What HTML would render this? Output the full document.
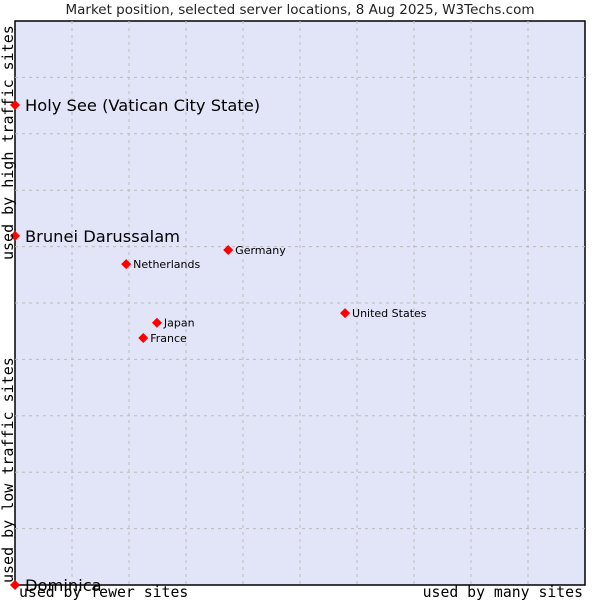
<!DOCTYPE html>
<html><head><meta charset="utf-8"><style>
body{margin:0;background:#fff;}
svg{display:block;font-family:"DejaVu Sans","Liberation Sans",sans-serif;}
</style></head><body>
<svg id="c" width="600" height="600">
<text x="300" y="14" text-anchor="middle" font-size="13.5" fill="#222">Market position, selected server locations, 8 Aug 2025, W3Techs.com</text>
<rect x="15" y="21" width="570" height="564" fill="#e2e4f8" stroke="#000" stroke-width="1.5"/>
<g id="grid"></g>
<g id="pts"></g>
<text x="19" y="597" font-family="DejaVu Sans Mono,Liberation Mono,monospace" font-size="14.8" fill="#000">used by fewer sites</text>
<text x="583" y="597" text-anchor="end" font-family="DejaVu Sans Mono,Liberation Mono,monospace" font-size="14.8" fill="#000">used by many sites</text>
<text transform="translate(13,583) rotate(-90)" font-family="DejaVu Sans Mono,Liberation Mono,monospace" font-size="15" fill="#000">used by low traffic sites</text>
<text transform="translate(13,260) rotate(-90)" font-family="DejaVu Sans Mono,Liberation Mono,monospace" font-size="15" fill="#000">used by high traffic sites</text>
</svg>
<script>
const names=["Holy See (Vatican City State)","Brunei Darussalam","Germany","Netherlands","United States","Japan","France","Dominica"];
const xs=[0,0,0.374,0.195,0.579,0.249,0.225,0];
const ys=[0.851,0.619,0.594,0.569,0.482,0.465,0.438,0];
const big=[1,1,0,0,0,0,0,1];
const X0=15,X1=585,Y0=585,Y1=21;
const sx=v=>X0+v*(X1-X0), sy=v=>Y0-v*(Y0-Y1);
const NS="http://www.w3.org/2000/svg";
const g=document.getElementById('grid');
for(let i=1;i<10;i++){
 const lx=document.createElementNS(NS,'line');
 
 
 const x=sx(i/10);lx.setAttribute('x1',x);lx.setAttribute('x2',x);lx.setAttribute('y1',Y1);lx.setAttribute('y2',Y0);
 lx.setAttribute('stroke','#bbb');lx.setAttribute('stroke-dasharray','3,4');g.appendChild(lx);
 const ly=document.createElementNS(NS,'line');
 
 
 const y=sy(i/10);ly.setAttribute('y1',y);ly.setAttribute('y2',y);ly.setAttribute('x1',X0);ly.setAttribute('x2',X1);
 ly.setAttribute('stroke','#bbb');ly.setAttribute('stroke-dasharray','3,4');g.appendChild(ly);
}
const p=document.getElementById('pts');
names.forEach((n,i)=>{
 const x=sx(xs[i]),y=sy(ys[i]);
 const d=document.createElementNS(NS,'polygon');
 
 
 d.setAttribute('points',`${x},${y-5} ${x+5},${y} ${x},${y+5} ${x-5},${y}`);
 d.setAttribute('fill','#f00');p.appendChild(d);
 const t=document.createElementNS(NS,'text');
 
 
 t.setAttribute('x',x+(big[i]?10:7));t.setAttribute('y',y+(big[i]?6:4));
 t.setAttribute('font-size',big[i]?16.3:11);t.setAttribute('fill','#000');
 t.textContent=n;p.appendChild(t);
});
</script>
</body></html>
